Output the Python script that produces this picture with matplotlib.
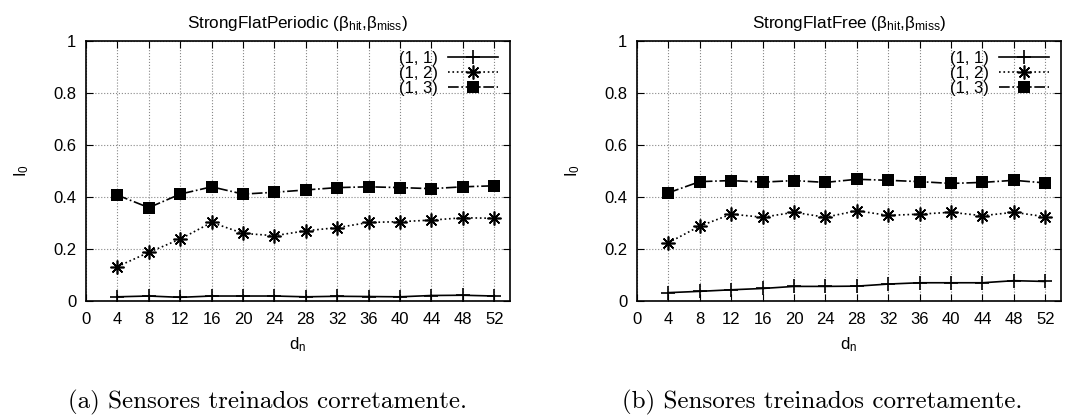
import numpy as np
import matplotlib
matplotlib.use('Agg')
import matplotlib.pyplot as plt

plt.rcParams['font.family'] = ['Liberation Sans', 'DejaVu Sans']
plt.rcParams['mathtext.fontset'] = 'custom'
plt.rcParams['mathtext.rm'] = 'Liberation Sans'
plt.rcParams['mathtext.it'] = 'Liberation Sans'

# Data
dn = [4, 8, 12, 16, 20, 24, 28, 32, 36, 40, 44, 48, 52]
labels = ['(1, 1)', '(1, 2)', '(1, 3)']

periodic_11 = [0.015, 0.018, 0.013, 0.018, 0.018, 0.018, 0.015, 0.017, 0.016, 0.015, 0.020, 0.021, 0.018]
periodic_12 = [0.131, 0.186, 0.237, 0.301, 0.259, 0.250, 0.269, 0.281, 0.301, 0.304, 0.310, 0.319, 0.317]
periodic_13 = [0.406, 0.358, 0.410, 0.438, 0.410, 0.417, 0.426, 0.435, 0.438, 0.435, 0.431, 0.438, 0.442]

free_11 = [0.031, 0.036, 0.042, 0.047, 0.055, 0.055, 0.056, 0.064, 0.069, 0.069, 0.069, 0.077, 0.074]
free_12 = [0.223, 0.287, 0.333, 0.321, 0.340, 0.321, 0.346, 0.328, 0.333, 0.340, 0.327, 0.340, 0.323]
free_13 = [0.415, 0.458, 0.462, 0.456, 0.462, 0.455, 0.467, 0.463, 0.458, 0.451, 0.455, 0.463, 0.453]

titles = [r'StrongFlatPeriodic ($\mathregular{β_{hit}}$,$\mathregular{β_{miss}}$)',
          r'StrongFlatFree ($\mathregular{β_{hit}}$,$\mathregular{β_{miss}}$)']
captions = ['(a) Sensores treinados corretamente.', '(b) Sensores treinados corretamente.']

fig = plt.figure(figsize=(10.65, 4.2), dpi=100)
ax1 = fig.add_axes([86/1065, 1-300.7/420, 424/1065, 260/420])
ax2 = fig.add_axes([637/1065, 1-300.7/420, 424/1065, 260/420])

asterisk = (8, 2, 0)
styles = [dict(ls='-', marker='+', ms=10, mew=1.2),
          dict(ls=':', marker=asterisk, ms=10, mew=1.2),
          dict(ls='-.', marker='s', ms=9, mew=0)]

for ax, series, title in [(ax1, [periodic_11, periodic_12, periodic_13], titles[0]),
                          (ax2, [free_11, free_12, free_13], titles[1])]:
    for s, lab, st in zip(series, labels, styles):
        ax.plot(dn, s, color='black', lw=1.2, label=lab, **st)
    ax.set_xlim(0, 54)
    ax.set_ylim(0, 1)
    ax.set_xticks(range(0, 53, 4))
    ax.set_yticks([0, 0.2, 0.4, 0.6, 0.8, 1])
    ax.set_yticklabels(['0', '0.2', '0.4', '0.6', '0.8', '1'])
    ax.grid(True, ls=':', color='#888888', lw=0.8)
    ax.tick_params(direction='in', top=True, right=True, labelsize=12, length=5)
    ax.tick_params(axis='x', pad=8)
    ax.tick_params(axis='y', pad=7)
    ax.set_title(title, fontsize=12.3, pad=9)
    ax.set_xlabel(r'd$_\mathregular{n}$', fontsize=12, labelpad=6)
    ax.set_ylabel(r'I$_\mathregular{0}$', fontsize=12, labelpad=16)
    for sp in ax.spines.values():
        sp.set_linewidth(1.2)
    ax.legend(loc='upper right', frameon=False, markerfirst=False, fontsize=12,
              handlelength=3.0, handletextpad=0.6, labelspacing=0.0,
              borderaxespad=0.2, bbox_to_anchor=(0.995, 1.0))

fig.text(268/1065, 1-402/420, captions[0], family='cmr10', fontsize=18, ha='center', va='center')
fig.text(822/1065, 1-402/420, captions[1], family='cmr10', fontsize=18, ha='center', va='center')

fig.savefig('out.png', dpi=100)
